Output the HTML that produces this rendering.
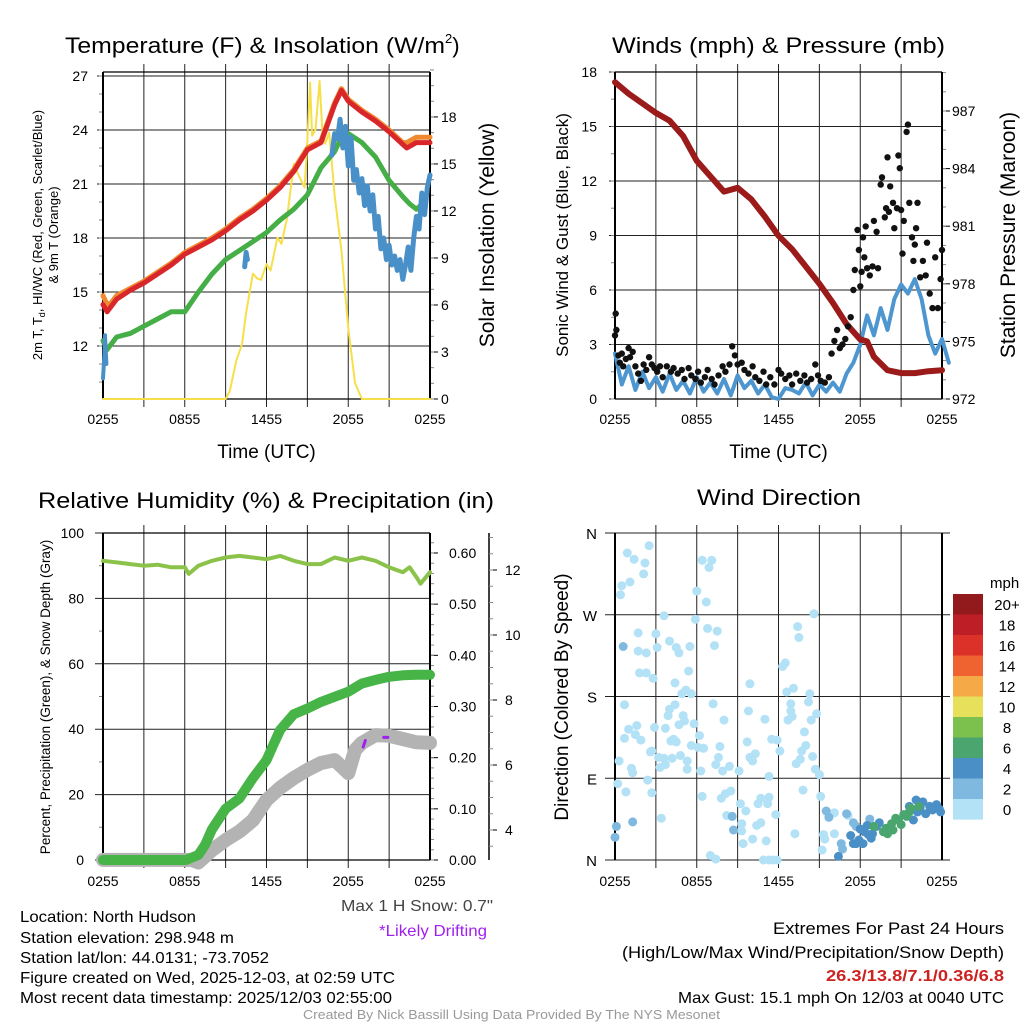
<!DOCTYPE html>
<html><head><meta charset="utf-8"><style>
html,body{margin:0;padding:0;background:#fff;}
svg{display:block;font-family:"Liberation Sans",Arial,sans-serif;}
</style></head><body>
<svg id="c" width="1024" height="1024" viewBox="0 0 1024 1024" xmlns="http://www.w3.org/2000/svg">
<rect width="1024" height="1024" fill="#fff"/>
<g id="g1"></g>
<g id="g2"></g>
<g id="g3"></g>
<g id="g4"></g>
<g font-size="16" fill="#000">
<text x="20" y="922" textLength="176" lengthAdjust="spacingAndGlyphs">Location: North Hudson</text>
<text x="20" y="943" textLength="214" lengthAdjust="spacingAndGlyphs">Station elevation: 298.948 m</text>
<text x="20" y="963" textLength="249" lengthAdjust="spacingAndGlyphs">Station lat/lon: 44.0131; -73.7052</text>
<text x="20" y="983" textLength="375" lengthAdjust="spacingAndGlyphs">Figure created on Wed, 2025-12-03, at 02:59 UTC</text>
<text x="20" y="1003" textLength="372" lengthAdjust="spacingAndGlyphs">Most recent data timestamp: 2025/12/03 02:55:00</text>
<text x="341" y="911" textLength="152" lengthAdjust="spacingAndGlyphs" fill="#444">Max 1 H Snow: 0.7"</text>
<text x="379" y="936" textLength="108" lengthAdjust="spacingAndGlyphs" fill="#a020f0">*Likely Drifting</text>
<text x="773" y="934" textLength="231" lengthAdjust="spacingAndGlyphs" font-size="17">Extremes For Past 24 Hours</text>
<text x="622" y="958" textLength="382" lengthAdjust="spacingAndGlyphs" font-size="17">(High/Low/Max Wind/Precipitation/Snow Depth)</text>
<text x="826" y="981" textLength="178" lengthAdjust="spacingAndGlyphs" font-weight="bold" fill="#cc2222">26.3/13.8/7.1/0.36/6.8</text>
<text x="678" y="1003" textLength="326" lengthAdjust="spacingAndGlyphs">Max Gust: 15.1 mph On 12/03 at 0040 UTC</text>
<text x="303" y="1019" textLength="417" lengthAdjust="spacingAndGlyphs" font-size="12.5" fill="#999">Created By Nick Bassill Using Data Provided By The NYS Mesonet</text>
</g>
</svg>
<script>
// ---------- data ----------
const xTickLabels = ["0255","0855","1455","2055","0255"];
const tempTicks = [12,15,18,21,24,27];
const solTicks = [0,3,6,9,12,15,18];
const redT = [0,0.3,0.6,1,2,3,4,5,6,7,8,9,10,11,12,13,14,15,16,17,17.5,18,19,20,21,22,22.3,23,24];
const redV = [14.3,13.9,14.2,14.6,15.1,15.5,16.0,16.5,17.1,17.5,17.9,18.4,19.0,19.5,20.1,20.8,21.7,22.9,23.3,25.4,26.2,25.6,25.0,24.5,23.9,23.2,23.0,23.3,23.3];
const orangeV = [14.8,14.3,14.4,14.8,15.2,15.6,16.1,16.6,17.2,17.6,18.0,18.5,19.1,19.6,20.2,20.9,21.8,23.0,23.4,25.5,26.3,25.7,25.1,24.6,24.0,23.3,23.3,23.6,23.6];
const greenT = [0,0.3,1,2,3,4,5,6,7,8,9,10,11,12,13,14,15,16,17,17.5,18,19,20,21,22,22.5,23,23.3];
const greenV = [12.3,11.8,12.5,12.7,13.1,13.5,13.9,13.9,15.0,16.0,16.8,17.3,17.8,18.3,19.0,19.6,20.4,21.9,22.8,23.6,23.8,23.3,22.5,21.2,20.3,19.9,19.6,19.8];
const blueSeg1T = [0,0.1,0.15,0.25]; const blueSeg1V = [10.2,11.5,12.6,11.0];
const blueSeg2T = [10.4,10.5,10.6]; const blueSeg2V = [16.4,17.2,16.8];
const blueSeg3T = [16.8,17.0,17.2,17.4,17.6,17.8,18.0,18.2,18.4,18.6,18.8,19.0,19.2,19.4,19.6,19.8,20.0,20.2,20.4,20.6,20.8,21.0,21.2,21.4,21.6,21.8,22.0,22.2,22.4,22.6,22.8,23.0,23.2,23.4,23.6,23.8,24.0];
const blueSeg3V = [22.6,23.8,23.5,24.6,23.0,24.2,22.0,23.6,21.2,21.8,20.5,21.3,19.8,20.9,19.5,20.4,18.5,19.2,17.4,18.0,16.8,17.6,16.5,17.0,16.2,16.8,15.7,16.5,17.5,16.2,18.0,19.2,18.5,20.5,19.3,20.8,21.5];
const solT = [0,9,9.3,9.8,10.2,10.5,11,11.3,11.6,12,12.3,12.8,13.1,13.5,14,14.4,14.8,15,15.2,15.35,15.6,15.9,16.1,16.3,16.6,17,17.5,18,18.5,19,24];
const solV = [0,0,0.5,2.5,3.5,5.5,8.0,7.7,7.6,8.6,8.2,10.3,9.9,11.5,15.0,14.2,13.5,16.5,20.2,16.8,17.2,20.3,17.0,16.3,17.0,13,9.5,4.5,1.0,0,0];

const windTicks = [0,3,6,9,12,15,18];
const presTicks = [972,975,978,981,984,987];
const windV = [2.5,0.8,1.8,0.5,1.5,0.6,1.2,0.4,1.4,0.5,1.0,0.3,1.2,0.4,0.9,0.3,1.1,0.2,1.3,0.6,1.0,0.3,0.8,0.1,0.0,0.6,0.5,0.3,0.9,0.2,0.8,0.4,0.9,0.4,1.4,2.0,3.0,4.6,3.5,5.0,3.8,5.5,6.3,5.8,6.6,5.5,3.5,2.5,3.3,2.0];
const presT = [0,1,2,3,4,5,6,7,8,9,10,11,12,13,14,15,16,17,18,18.5,19,20,21,22,23,24];
const presV = [988.5,987.9,987.4,986.9,986.5,985.7,984.4,983.6,982.8,983.0,982.4,981.5,980.5,979.8,978.9,978.0,977.0,975.9,975.1,975.0,974.2,973.5,973.35,973.35,973.45,973.5];
const gustT = [0,0.05,0.1,0.25,0.35,0.5,0.6,0.8,1.0,1.1,1.3,1.5,1.7,1.9,2.1,2.3,2.5,2.7,2.9,3.1,3.3,3.5,3.8,4.1,4.3,4.6,4.9,5.1,5.4,5.6,5.9,6.1,6.3,6.6,6.8,7.1,7.3,7.6,7.9,8.1,8.4,8.6,8.8,9.0,9.3,9.5,9.8,10.1,10.3,10.6,10.9,11.1,11.4,11.7,12.0,12.2,12.5,12.8,13.0,13.3,13.6,13.9,14.1,14.4,14.7,14.9,15.1,15.4,15.7,15.9,16.1,16.3,16.5,16.7,16.9,17.1,17.3,17.5,17.6,17.8,17.9,18.0,18.1,18.2,18.3,18.4,18.5,18.7,18.9,19.0,19.2,19.3,19.5,19.6,19.8,19.9,20.0,20.1,20.2,20.4,20.5,20.7,20.8,20.9,21.0,21.1,21.2,21.4,21.5,21.6,21.8,21.9,22.0,22.1,22.2,22.4,22.6,22.8,22.9,23.1,23.3,23.5,23.7,23.9,24.0];
const gustV = [3.5,4.7,3.8,2.4,2.0,2.5,1.8,2.2,2.8,2.3,2.6,1.8,1.4,1.0,1.9,1.6,2.3,1.9,1.7,1.5,1.8,1.2,1.8,1.5,1.7,1.4,1.6,1.1,1.7,1.3,1.1,1.5,0.9,1.2,1.6,1.1,0.8,1.3,1.8,1.5,1.9,2.9,2.4,1.9,2.0,1.6,1.4,1.8,1.2,1.0,1.5,0.8,1.2,0.8,1.6,1.4,1.1,1.3,0.8,1.4,1.0,1.3,0.9,1.1,1.9,1.3,1.0,0.9,1.2,2.5,3.2,3.8,2.8,3.0,3.3,4.0,4.5,6.0,7.1,9.3,8.2,6.2,7.0,8.9,7.8,9.5,7.2,6.8,7.3,9.8,9.2,7.2,11.8,12.2,10.0,10.5,13.3,10.3,11.7,10.8,9.4,10.5,13.4,12.7,10.4,8.0,9.8,14.7,15.1,10.8,8.9,7.6,8.5,9.4,10.8,6.7,7.6,6.8,8.6,5.8,5.0,7.8,5.0,6.6,8.2];

const rhTicks = [0,20,40,60,80,100];
const precipTicks = ["0.00","0.10","0.20","0.30","0.40","0.50","0.60"];
const snowTicks = [4,6,8,10,12];
const rhT = [0,1,2,3,4,5,6,6.3,7,8,9,10,11,12,13,14,15,16,17,18,19,20,21,22,22.5,23,23.3,24];
const rhV = [91.5,91,90.5,90,90.3,89.5,89.5,87.5,90,91.5,92.5,93,92.5,92,93,91.5,90.5,90.5,92.5,91.5,92.5,91.5,89.5,88,89.5,86.5,84.5,88];
const precipT = [0,6.1,7,7.5,8,9,10,11,12,12.5,13,14,15,16,17,18,19,20,21,22,23,24];
const precipV = [0,0,0.01,0.03,0.06,0.10,0.12,0.16,0.195,0.225,0.254,0.285,0.296,0.309,0.319,0.329,0.345,0.352,0.358,0.361,0.362,0.362];
const snowT = [0,6.5,7,8,9,10,11,12,13,14,15,16,17,18,18.5,19,20,21,22,23,24];
const snowV = [3.08,3.08,3.0,3.38,3.69,3.95,4.3,4.92,5.3,5.6,5.85,6.06,6.15,5.75,6.46,6.68,6.92,6.9,6.8,6.7,6.68];
const driftT = [[19.1,19.25],[20.6,20.9]];
const driftV = [[6.55,6.75],[6.85,6.85]];

const dirLabels = ["N","E","S","W","N"];
const cbarLabels = ["20+","18","16","14","12","10","8","6","4","2","0"];
const cbarColors = ["#921a1c","#be1e26","#dc3128","#ee6330","#f5aa47","#e6e05a","#7cc04e","#4aa66e","#4a8fc6","#7fb9e0","#b3e1f6"];
const dirT = [0.9,1.4,2.2,2.5,2.1,1.1,0.5,0.4,1.7,1.7,2.3,1.8,2.3,2.8,3.0,3.1,3.6,4.0,4.5,4.7,5.5,5.4,4.4,5.2,4.9,5.6,0.7,1.0,0.7,1.6,1.5,1.9,2.6,2.9,2.7,3.7,3.9,4.0,4.4,4.7,5.0,5.1,5.8,4.1,4.3,4.5,3.2,3.6,3.3,3.7,4.2,4.8,5.3,5.3,5.6,0.3,1.2,1.3,0.2,0.8,2.4,2.7,3.4,6.0,5.9,6.4,7.1,6.9,6.7,6.8,7.5,7.3,6.2,6.1,6.5,6.3,7.2,8.0,7.7,7.6,7.4,7.9,8.4,6.4,7.8,8.1,8.5,8.2,7.0,7.4,9.1,9.9,9.8,11.0,9.7,10.3,9.9,10.1,9.2,9.6,9.3,9.3,9.4,10.1,10.5,10.7,11.3,11.2,11.8,10.7,10.4,11.1,11.3,11.5,11.9,12.1,12.3,12.5,12.6,13.1,12.9,12.9,12.7,13.0,13.4,13.5,13.9,14.0,13.7,13.3,13.6,14.3,14.2,14.4,14.8,14.6,14.5,14.7,15.0,15.1,13.8,13.2,10.9,11.3,11.6,11.9,15.3,15.4,15.2,16.1,16.1,17.1,
0.6,0.1,0.0,1.3,8.7,8.6,15.5,15.7,16.6,16.7,17.0,17.5,17.7,18.7,
16.4,17.3,17.5,17.9,18.3,18.6,18.9,19.2,19.4,21.6,22.1,22.6,23.1,23.6,23.9,22.8,22.2,18.2,17.7,18.8,18.0,18.5,21.9,22.4,23.3,23.8,
19.0,19.7,20.0,20.3,20.6,21.0,21.2,21.6,21.7,22.3,19.9,20.4,20.8,21.4];
const dirD = [338,331,327,346,315,306,302,292,250,230,228,206,206,200,249,234,269,241,234,228,235,208,195,187,183,183,171,144,134,148,138,132,119,146,120,145,159,166,171,149,159,153,150,131,133,130,113,112,102,105,112,115,109,100,126,109,101,96,84,75,88,74,46,296,265,330,330,322,284,255,252,236,137,124,123,98,172,154,125,113,105,98,103,70,68,73,76,49,5,1,98,194,164,155,130,117,113,109,62,54,40,32,18,23,62,68,69,62,50,41,38,21,92,133,132,120,213,217,185,189,172,164,154,158,257,245,141,126,120,106,111,183,174,154,161,271,114,100,94,70,77,29,0,0,0,0,28,23,11,29,52,49,
235,37,25,42,33,48,54,47,18,12,51,41,37,45,
4,27,18,22,31,28,29,37,41,59,66,64,59,61,53,51,53,18,18,24,34,38,44,58,55,56,
37,31,29,40,46,39,50,53,57,59,35,33,44,48];
const dirS = [1,1,1,1,1,1,1,1,1,1,1,1,1,1,1,1,1,1,1,1,1,1,1,1,1,1,1,1,1,1,1,1,1,1,1,1,1,1,1,1,1,1,1,1,1,1,1,1,1,1,1,1,1,1,1,1,1,1,1,1,1,1,1,1,1,1,1,1,1,1,1,1,1,1,1,1,1,1,1,1,1,1,1,1,1,1,1,1,1,1,1,1,1,1,1,1,1,1,1,1,1,1,1,1,1,1,1,1,1,1,1,1,1,1,1,1,1,1,1,1,1,1,1,1,1,1,1,1,1,1,1,1,1,1,1,1,1,1,1,1,1,1,1,1,1,1,1,1,1,1,1,1,
3,3,3,3,3,3,3,3,3,3,3,3,3,3,
5,5,5,5,5,5,5,5,5,5,5,5,5,5,5,5,5,5,5,5,5,5,5,5,5,5,
7,7,7,7,7,7,7,7,7,7,7,7,7,7];

// ---------- helpers ----------
const NS = "http://www.w3.org/2000/svg";
function mk(parent, tag, attrs, name, txt){
  const e = document.createElementNS(NS, tag);
  for (const k in attrs) e.setAttribute(k, attrs[k]);
  
  
  if (txt !== undefined) e.textContent = txt;
  parent.appendChild(e); return e;
}
function pathFrom(ts, vs, xf, yf){
  let d = "";
  for (let i=0;i<ts.length;i++) d += (i?"L":"M") + xf(ts[i]).toFixed(1) + " " + yf(vs[i]).toFixed(1);
  return d;
}
function line(g,x1,y1,x2,y2,name,w,c){ return mk(g,'line',{x1,y1,x2,y2,stroke:c||'#000','stroke-width':w||1},name); }
function series(g,ts,vs,xf,yf,color,w,name){
  return mk(g,'path',{d:pathFrom(ts,vs,xf,yf),fill:'none',stroke:color,'stroke-width':w,'stroke-linejoin':'round','stroke-linecap':'round'},name);
}
function speedColor(s){ const idx = Math.min(10, Math.floor(s/2)); return cbarColors[10-idx]; }

function timeAxis(g, x0, x1, yTop, yBot, labelY, title, titleY){
  const xf = t => x0 + t*(x1-x0)/24;
  for (let h=3; h<24; h+=3) line(g, xf(h), yTop-8, xf(h), yBot+8, 'x-gridline', 1, '#222');
  xTickLabels.forEach((l,i)=>{
    mk(g,'text',{x:xf(i*6),y:labelY,'text-anchor':'middle','font-size':14},'x-tick-label',l);
  });
  if (title) mk(g,'text',{x:(x0+x1)/2,y:titleY,'text-anchor':'middle','font-size':19},'x-axis-title',title);
  return xf;
}

// ---------- Panel 1 ----------
(function(){
  const g = document.getElementById('g1');
  const x0=103,x1=430,top=72,bot=399;
  const yT = v => 76 + (27-v)*18;
  const yS = v => 399 - v*15.67;
  const tt = mk(g,'text',{x:65,y:53,'font-size':22},'chart-title');
  mk(tt,'tspan',{textLength:380,lengthAdjust:'spacingAndGlyphs'},'chart-title-main','Temperature (F) & Insolation (W/m');
  mk(tt,'tspan',{dy:-10,'font-size':13},'chart-title-superscript','2');
  mk(tt,'tspan',{dy:10},'chart-title-end',')');
  const xf = timeAxis(g,x0,x1,top,bot,424,'Time (UTC)',458);
  tempTicks.forEach(v=>{
    line(g,x0-6,yT(v),x1,yT(v),'y-gridline',1,'#222');
    mk(g,'text',{x:88,y:yT(v)+5,'text-anchor':'end','font-size':14},'y-tick-label',v);
  });
  for (let v=10; v<=27; v++) line(g,x0-4,yT(v),x0,yT(v),'y-minor-tick',1,'#888');
  solTicks.forEach(v=>{
    line(g,x1,yS(v),x1+8,yS(v),'y2-tick',1);
    mk(g,'text',{x:441,y:yS(v)+5,'font-size':14},'y2-tick-label',v);
  });
  for (let v=0; v<=21; v++) line(g,x1,yS(v),x1+4,yS(v),'y2-minor-tick',1,'#888');
  line(g,x0,top,x1,top,'plot-top-border',1.2);
  line(g,x0,bot,x1,bot,'plot-bottom-border',1.2);
  line(g,x0,top,x0,bot,'y-axis-line',2);
  line(g,x1,top,x1,bot,'y2-axis-line',2);
  const yt = mk(g,'text',{transform:'translate(42,235) rotate(-90)','text-anchor':'middle','font-size':13},'y-axis-title');
  mk(yt,'tspan',{},'y-axis-title-part','2m T, T');
  mk(yt,'tspan',{dy:3,'font-size':9},'y-axis-title-subscript','d');
  mk(yt,'tspan',{dy:-3},'y-axis-title-part',', HI/WC (Red, Green, Scarlet/Blue)');
  mk(g,'text',{transform:'translate(58,235) rotate(-90)','text-anchor':'middle','font-size':13},'y-axis-title-line2','& 9m T (Orange)');
  mk(g,'text',{transform:'translate(494,235) rotate(-90)','text-anchor':'middle','font-size':21},'y2-axis-title','Solar Insolation (Yellow)');
  series(g,solT,solV,xf,yS,'#f7df4a',2,'insolation-line');
  series(g,redT,orangeV,xf,yT,'#f08a30',5,'9m-temp-line');
  series(g,greenT,greenV,xf,yT,'#46ae46',5,'dewpoint-line');
  series(g,redT,redV,xf,yT,'#d8262a',5,'temperature-line');
  series(g,blueSeg1T,blueSeg1V,xf,yT,'#4a90c8',4,'windchill-line');
  series(g,blueSeg2T,blueSeg2V,xf,yT,'#4a90c8',5,'windchill-line');
  series(g,blueSeg3T,blueSeg3V,xf,yT,'#4a90c8',5,'windchill-line');
})();

// ---------- Panel 2 ----------
(function(){
  const g = document.getElementById('g2');
  const x0=615,x1=942,top=72,bot=399;
  const yW = v => 399 - v*18.17;
  const yP = v => 399 - (v-972)*19.2;
  mk(g,'text',{x:612,y:53,'font-size':22,textLength:333,lengthAdjust:'spacingAndGlyphs'},'chart-title','Winds (mph) & Pressure (mb)');
  const xf = timeAxis(g,x0,x1,top,bot,424,'Time (UTC)',458);
  windTicks.forEach(v=>{
    line(g,x0-6,yW(v),x1,yW(v),'y-gridline',1,'#222');
    mk(g,'text',{x:597,y:yW(v)+5,'text-anchor':'end','font-size':14},'y-tick-label',v);
  });
  for (let v=0; v<=18; v+=1.5) line(g,x0-4,yW(v),x0,yW(v),'y-minor-tick',1,'#888');
  presTicks.forEach(v=>{
    line(g,x1,yP(v),x1+8,yP(v),'y2-tick',1);
    mk(g,'text',{x:952,y:yP(v)+5,'font-size':14},'y2-tick-label',v);
  });
  for (let v=972; v<=989; v++) line(g,x1,yP(v),x1+4,yP(v),'y2-minor-tick',1,'#888');
  line(g,x0,top,x1,top,'plot-top-border',1.2);
  line(g,x0,bot,x1,bot,'plot-bottom-border',1.2);
  line(g,x0,top,x0,bot,'y-axis-line',2);
  line(g,x1,top,x1,bot,'y2-axis-line',2);
  mk(g,'text',{transform:'translate(568,235) rotate(-90)','text-anchor':'middle','font-size':17},'y-axis-title','Sonic Wind & Gust (Blue, Black)');
  mk(g,'text',{transform:'translate(1015,235) rotate(-90)','text-anchor':'middle','font-size':21},'y2-axis-title','Station Pressure (Maroon)');
  const windT = windV.map((v,i)=>i*0.5);
  series(g,windT,windV,xf,yW,'#4d96d0',4,'wind-speed-line');
  series(g,presT,presV,xf,yP,'#9b1b1b',6,'pressure-line');
  gustT.forEach((t,i)=>{
    mk(g,'circle',{cx:xf(t).toFixed(1),cy:yW(gustV[i]).toFixed(1),r:3.2,fill:'#111'},'gust-point');
  });
})();

// ---------- Panel 3 ----------
(function(){
  const g = document.getElementById('g3');
  const x0=103,x1=430,top=533,bot=860;
  const yR = v => 860 - v*3.27;
  const yPr = v => 860 - v*511.7;
  const ySn = v => 830 - (v-4)*32.5;
  mk(g,'text',{x:38,y:508,'font-size':22,textLength:456,lengthAdjust:'spacingAndGlyphs'},'chart-title','Relative Humidity (%) & Precipitation (in)');
  const xf = timeAxis(g,x0,x1,top,bot,886);
  rhTicks.forEach(v=>{
    line(g,x0-8,yR(v),x1,yR(v),'y-gridline',1,'#222');
    mk(g,'text',{x:84,y:yR(v)+5,'text-anchor':'end','font-size':14},'y-tick-label',v);
  });
  for (let v=10; v<100; v+=20) line(g,x0-4,yR(v),x0,yR(v),'y-minor-tick',1,'#888');
  precipTicks.forEach((l,i)=>{
    line(g,x1,yPr(i/10),x1+8,yPr(i/10),'precip-tick',1);
    mk(g,'text',{x:449,y:yPr(i/10)+5,'font-size':14},'precip-tick-label',l);
  });
  for (let v=0; v<=0.63; v+=0.02) line(g,x1,yPr(v),x1+4,yPr(v),'precip-minor-tick',1,'#888');
  line(g,489,533,489,860,'snow-axis-line',1.5);
  snowTicks.forEach(v=>{
    line(g,489,ySn(v),497,ySn(v),'snow-tick',1);
    mk(g,'text',{x:505,y:ySn(v)+5,'font-size':14},'snow-tick-label',v);
  });
  for (let v=3.5; v<=13; v+=0.5) line(g,489,ySn(v),493,ySn(v),'snow-minor-tick',1,'#888');
  line(g,x0,top,x1,top,'plot-top-border',1.2);
  line(g,x0,bot,x1,bot,'plot-bottom-border',1.2);
  line(g,x0,top,x0,bot,'y-axis-line',2);
  line(g,x1,top,x1,bot,'precip-axis-line',2);
  mk(g,'text',{transform:'translate(50,697) rotate(-90)','text-anchor':'middle','font-size':13.5},'y-axis-title','Percent, Precipitation (Green), & Snow Depth (Gray)');
  series(g,snowT,snowV,xf,ySn,'#b3b3b3',14,'snow-depth-line');
  driftT.forEach((ts,i)=>series(g,ts,driftV[i],xf,ySn,'#a020f0',3,'drifting-marker'));
  series(g,precipT,precipV,xf,yPr,'#46b446',10,'precipitation-line');
  series(g,rhT,rhV,xf,yR,'#8bc34a',4,'humidity-line');
})();

// ---------- Panel 4 ----------
(function(){
  const g = document.getElementById('g4');
  const x0=615,x1=942,top=533,bot=860;
  const yD = d => 860 - d*327/360;
  mk(g,'text',{x:697,y:505,'font-size':22,textLength:164,lengthAdjust:'spacingAndGlyphs'},'chart-title','Wind Direction');
  const xf = timeAxis(g,x0,x1,top,bot,886);
  dirLabels.forEach((l,i)=>{
    line(g,x0-10,yD(i*90),x1+8,yD(i*90),'y-gridline',1,'#222');
    mk(g,'text',{x:597,y:yD(i*90)+6,'text-anchor':'end','font-size':15},'y-tick-label',l);
  });
  line(g,x0,top,x0,bot,'y-axis-line',2);
  line(g,x1,top,x1,bot,'plot-right-border',2);
  mk(g,'text',{transform:'translate(568,697) rotate(-90)','text-anchor':'middle','font-size':19},'y-axis-title','Direction (Colored By Speed)');
  dirT.forEach((t,i)=>{
    mk(g,'circle',{cx:xf(t).toFixed(1),cy:yD(dirD[i]).toFixed(1),r:4.5,fill:speedColor(dirS[i])},'direction-point');
  });
  mk(g,'text',{x:990,y:588,'font-size':15},'colorbar-unit','mph');
  cbarColors.forEach((c,i)=>{
    mk(g,'rect',{x:953,y:594+i*20.5,width:30,height:20.6,fill:c},'colorbar-box');
    mk(g,'text',{x:1007,y:594+i*20.5+16,'text-anchor':'middle','font-size':15},'colorbar-label',cbarLabels[i]);
  });
})();
</script>
</body></html>
